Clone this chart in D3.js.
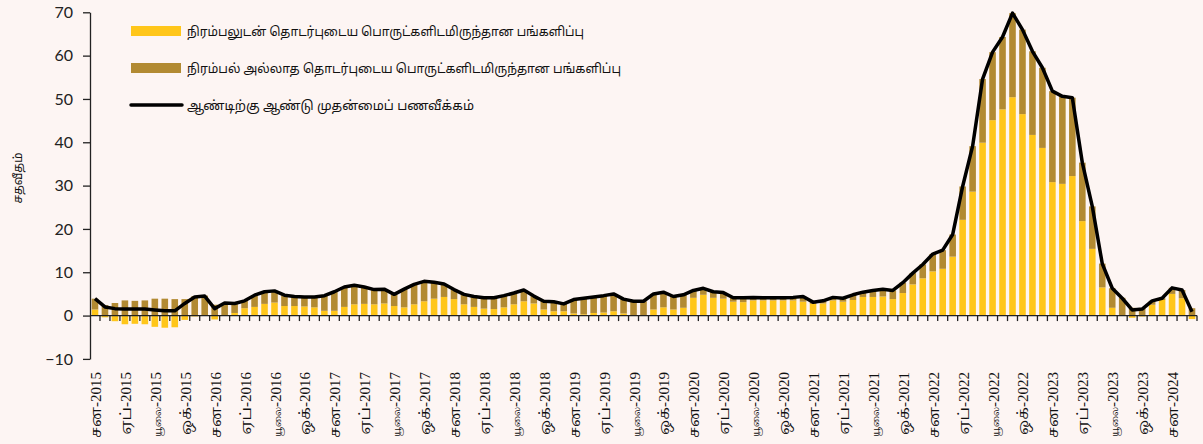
<!DOCTYPE html>
<html>
<head>
<meta charset="utf-8">
<script src="https://cdn.jsdelivr.net/npm/d3@7"></script>
<style>
  body { margin: 0; background: #fdf5f3; }
  svg { display: block; }
  .tam { font-family: "Noto Sans Tamil", "Latha", sans-serif; }
  .xl { font-family: "Liberation Serif", "Noto Serif Tamil", serif; }
</style>
</head>
<body>
<div id="chart"></div>
<script>
// months Jan 2015 .. Mar 2024
var monthNames = ["சன", "பெப்", "மார்", "ஏப்", "மே", "யூன்", "யூலை", "ஓக", "செப்", "ஒக்", "நவ", "டிச"];
var startYear = 2015;

// contribution of food items (percentage points)
var foodContrib = [
  1.4, -0.4, -1.3, -2.0, -1.9, -2.0, -2.6, -2.8, -2.7, -1.0, -0.2, -0.1,
  -0.9, 0.1, 0.6, 1.7, 2.0, 2.7, 3.0, 2.2, 2.2, 2.1, 1.9, 1.1,
  1.1, 2.0, 2.6, 2.7, 2.6, 2.8, 2.2, 1.9, 2.6, 3.3, 3.9, 4.3,
  3.8, 2.6, 2.0, 1.6, 1.5, 1.9, 2.6, 3.3, 2.8, 1.4, 1.0, 1.0,
  0.5, 0.3, 0.6, 0.7, 1.0, 0.5, -0.1, 0.0, 1.4, 1.9, 1.4, 1.8,
  4.1, 4.8, 4.1, 3.9, 3.2, 3.1, 3.5, 3.5, 3.5, 3.5, 3.5, 3.2,
  2.7, 2.8, 3.5, 3.2, 3.6, 4.3, 4.3, 4.4, 3.8, 5.2, 7.2, 8.6,
  10.2, 10.8, 13.6, 22.1, 28.6, 39.9, 45.1, 47.6, 50.4, 46.5, 41.7, 38.7,
  30.8, 30.4, 32.2, 21.8, 15.4, 6.5, 1.8, -0.1, -0.5, -0.2, 2.5, 3.6,
  5.0, 4.0, -0.8
];

// contribution of non-food items (percentage points)
var nonFoodContrib = [
  2.5, 2.4, 2.9, 3.5, 3.4, 3.5, 3.9, 3.9, 3.8, 3.8, 4.5, 4.6,
  2.5, 2.8, 2.2, 1.7, 2.7, 2.8, 2.7, 2.5, 2.2, 2.2, 2.4, 3.5,
  4.4, 4.6, 4.4, 3.9, 3.4, 3.3, 2.7, 4.2, 4.6, 4.6, 3.8, 3.0,
  2.2, 2.3, 2.4, 2.5, 2.6, 2.7, 2.6, 2.6, 1.7, 1.9, 2.2, 1.7,
  3.2, 3.7, 3.7, 3.9, 4.0, 3.3, 3.4, 3.3, 3.6, 3.5, 3.0, 3.0,
  1.7, 1.5, 1.4, 1.4, 0.9, 1.0, 0.7, 0.6, 0.6, 0.6, 0.7, 1.2,
  0.4, 0.6, 0.7, 0.8, 1.2, 1.1, 1.5, 1.7, 2.0, 2.4, 2.6, 3.2,
  4.0, 4.3, 5.1, 7.7, 10.5, 14.7, 15.7, 16.7, 19.4, 19.5, 19.3, 18.5,
  21.0, 20.2, 18.1, 13.5, 9.8, 5.5, 4.5, 4.1, 1.8, 1.7, 0.9, 0.4,
  1.4, 1.9, 1.7
];

// headline year-on-year inflation (%)
var headline = [
  3.9, 2.0, 1.6, 1.5, 1.5, 1.5, 1.3, 1.1, 1.1, 2.8, 4.3, 4.5,
  1.6, 2.9, 2.8, 3.4, 4.7, 5.5, 5.7, 4.7, 4.4, 4.3, 4.3, 4.6,
  5.5, 6.6, 7.0, 6.6, 6.0, 6.1, 4.9, 6.1, 7.2, 7.9, 7.7, 7.3,
  6.0, 4.9, 4.4, 4.1, 4.1, 4.6, 5.2, 5.9, 4.5, 3.3, 3.2, 2.7,
  3.7, 4.0, 4.3, 4.6, 5.0, 3.8, 3.3, 3.3, 5.0, 5.4, 4.4, 4.8,
  5.8, 6.3, 5.5, 5.3, 4.1, 4.1, 4.2, 4.1, 4.1, 4.1, 4.2, 4.4,
  3.1, 3.4, 4.2, 4.0, 4.8, 5.4, 5.8, 6.1, 5.8, 7.6, 9.8, 11.8,
  14.2, 15.1, 18.7, 29.8, 39.1, 54.6, 60.8, 64.3, 69.8, 66.0, 61.0, 57.2,
  51.8, 50.6, 50.3, 35.3, 25.2, 12.0, 6.3, 4.0, 1.3, 1.5, 3.4, 4.0,
  6.4, 5.9, 0.9
];

var yTicks = [-10, 0, 10, 20, 30, 40, 50, 60, 70];

var legendLabels = [
  "நிரம்பலுடன் தொடர்புடைய பொருட்களிடமிருந்தான பங்களிப்பு",
  "நிரம்பல் அல்லாத தொடர்புடைய பொருட்களிடமிருந்தான பங்களிப்பு",
  "ஆண்டிற்கு ஆண்டு முதன்மைப் பணவீக்கம்"
];
var yTitle = "சதவீதம்";

var foodColor = "#ffc61a";
var nonFoodColor = "#b28a32";

var months = foodContrib.map(function (d, i) {
  var yr = startYear + Math.floor(i / 12);
  return monthNames[i % 12] + "-" + yr;
});

var data = months.map(function (m, i) {
  return { month: m, idx: i, food: foodContrib[i], nonFood: nonFoodContrib[i], total: headline[i] };
});

var width = 1203, height = 444;
var plotL = 90, plotR = 1197, plotT = 12.3, plotB = 358.9;

var svg = d3.select("#chart").append("svg")
  .attr("width", width).attr("height", height);

svg.append("rect").attr("width", width).attr("height", height).attr("fill", "#fdf5f3");

var x = d3.scaleBand().domain(months).range([plotL, plotR])
  .paddingInner(0.34).paddingOuter(0.17);
var y = d3.scaleLinear().domain([-10, 70]).range([plotB, plotT]);

// food from zero (up or down), non-food stacked on positive food or from zero
function stackPos(d) {
  var f0 = 0, f1 = d.food, n0, n1;
  n0 = d.food >= 0 ? d.food : 0;
  n1 = n0 + d.nonFood;
  return [f0, f1, n0, n1];
}

svg.append("g").selectAll("rect").data(data).enter().append("rect")
  .attr("x", function (d) { return x(d.month); })
  .attr("width", x.bandwidth())
  .attr("y", function (d) { var s = stackPos(d); return y(Math.max(s[0], s[1])); })
  .attr("height", function (d) { var s = stackPos(d); return Math.abs(y(s[0]) - y(s[1])); })
  .attr("fill", foodColor);

svg.append("g").selectAll("rect").data(data).enter().append("rect")
  .attr("x", function (d) { return x(d.month); })
  .attr("width", x.bandwidth())
  .attr("y", function (d) { var s = stackPos(d); return y(Math.max(s[2], s[3])); })
  .attr("height", function (d) { var s = stackPos(d); return Math.abs(y(s[2]) - y(s[3])); })
  .attr("fill", nonFoodColor);

// headline line
var line = d3.line()
  .x(function (d) { return x(d.month) + x.bandwidth() / 2; })
  .y(function (d) { return y(d.total); });

svg.append("path").datum(data)
  .attr("d", line)
  .attr("fill", "none")
  .attr("stroke", "#000")
  .attr("stroke-width", 3.5)
  .attr("stroke-linejoin", "round");

// y axis
var yAxis = svg.append("g")
  .attr("transform", "translate(" + plotL + ",0)")
  .call(d3.axisLeft(y).tickValues(yTicks).tickSize(7).tickSizeOuter(0).tickPadding(10)
    .tickFormat(d3.format("d")));
yAxis.select(".domain").attr("stroke", "#222").attr("stroke-width", 1.3);
yAxis.selectAll(".tick line").attr("stroke", "#222").attr("stroke-width", 1.3);
yAxis.selectAll("text").attr("font-family", "Lato, 'Open Sans', sans-serif")
  .attr("font-size", 16).attr("fill", "#222");

// x axis along zero line with monthly ticks between bars
var step = x.step();
var gapHalf = step * x.paddingInner() / 2;
var xg = svg.append("g");
xg.append("line")
  .attr("x1", plotL).attr("x2", x(months[months.length - 1]) + x.bandwidth() + gapHalf)
  .attr("y1", y(0)).attr("y2", y(0))
  .attr("stroke", "#222").attr("stroke-width", 1.3);
xg.selectAll("line.tk").data(data).enter().append("line")
  .attr("class", "tk")
  .attr("x1", function (d) { return x(d.month) + x.bandwidth() + gapHalf; })
  .attr("x2", function (d) { return x(d.month) + x.bandwidth() + gapHalf; })
  .attr("y1", y(0)).attr("y2", y(0) + 5.5)
  .attr("stroke", "#222").attr("stroke-width", 1.3);

// x labels every third month (the July name is drawn small, as in the original)
var xl = xg.selectAll("text").data(data.filter(function (d) { return d.idx % 3 === 0; }))
  .enter().append("text")
  .attr("class", "xl")
  .attr("transform", function (d) {
    return "translate(" + (x(d.month) + x.bandwidth() / 2 + 6) + ",372) rotate(-90)";
  })
  .attr("text-anchor", "end")
  .attr("font-size", 15)
  .attr("fill", "#111");
xl.append("tspan")
  .attr("font-size", function (d) { return d.idx % 12 === 6 ? 8.5 : 15; })
  .text(function (d) { return d.month.split("-")[0]; });
xl.append("tspan")
  .text(function (d) { return "-" + d.month.split("-")[1]; });

// y title
svg.append("text")
  .attr("class", "tam")
  .attr("transform", "translate(22,178) rotate(-90)")
  .attr("text-anchor", "middle")
  .attr("font-size", 12)
  .attr("fill", "#111")
  .text(yTitle);

// legend
var lg = svg.append("g").attr("transform", "translate(131,0)");
var legendRows = [
  { y: 31, kind: "rect", color: foodColor, w: 397 },
  { y: 68, kind: "rect", color: nonFoodColor, w: 434 },
  { y: 105, kind: "line", color: "#000", w: 287 }
];
legendRows.forEach(function (r, i) {
  if (r.kind === "rect") {
    lg.append("rect").attr("x", 0).attr("y", r.y - 5).attr("width", 50).attr("height", 10).attr("fill", r.color);
  } else {
    lg.append("line").attr("x1", 0).attr("x2", 51).attr("y1", r.y).attr("y2", r.y)
      .attr("stroke", r.color).attr("stroke-width", 3.5).attr("stroke-linecap", "round");
  }
  lg.append("text").attr("class", "tam")
    .attr("x", 56).attr("y", r.y + 5)
    .attr("font-size", 13).attr("fill", "#111")
    .attr("textLength", r.w).attr("lengthAdjust", "spacingAndGlyphs")
    .text(legendLabels[i]);
});
</script>
</body>
</html>
